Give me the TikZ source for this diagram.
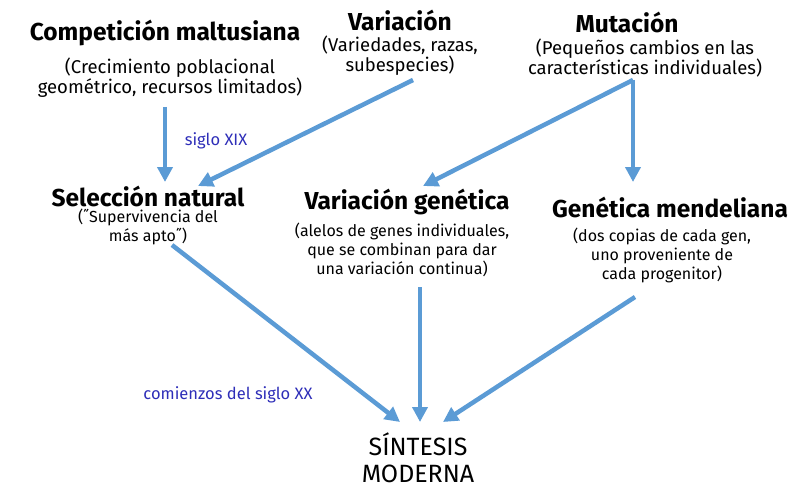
\documentclass[tikz,border=0pt]{standalone}
\usepackage{fontspec}
\setmainfont{Fira Sans}
\usetikzlibrary{arrows.meta}
\definecolor{arr}{HTML}{5B9BD5}
\definecolor{lbl}{HTML}{2E2EB8}
\tikzset{
 ttl/.style={font=\fontsize{24.5}{26}\selectfont\bfseries, inner sep=0pt},
 sub/.style={font=\fontsize{18.5}{20}\selectfont, align=center, inner sep=0pt},
 sm/.style={font=\fontsize{16}{19}\selectfont, align=center, inner sep=0pt},
 era/.style={font=\fontsize{16.5}{18}\selectfont, text=lbl, inner sep=0pt},
 flow/.style={draw=arr, line width=4.5pt, -{Triangle[length=15pt,width=15pt]}}
}
\begin{document}
\begin{tikzpicture}[x=1pt,y=-1pt]
\useasboundingbox (0,0) rectangle (800,500);
\node[ttl] (cm) at (165,33) {Competición maltusiana};
\node[sub] (cms) at (170,78) {(Crecimiento poblacional\\geométrico, recursos limitados)};
\node[ttl] (va) at (400,20) {Variación};
\node[sub] (vas) at (400,56) {(Variedades, razas,\\subespecies)};
\node[ttl] (mu) at (627,22) {Mutación};
\node[sub] (mus) at (645,58) {(Pequeños cambios en las\\características individuales)};
\node[era] (s19) at (216,141) {siglo XIX};
\node[ttl] (sn) at (148,196) {Selección natural};
\node[sm] (sns) at (148,227) {(˝Supervivencia del\\más apto˝)};
\node[ttl] (vg) at (407,202) {Variación genética};
\node[sm] (vgs) at (402,250) {(alelos de genes individuales,\\que se combinan para dar\\una variación continua)};
\node[ttl] (gm) at (670,207) {Genética mendeliana};
\node[sm] (gms) at (662,255) {(dos copias de cada gen,\\uno proveniente de\\cada progenitor)};
\node[era] (s20) at (228,395) {comienzos del siglo XX};
\node[font=\fontsize{25}{27}\selectfont, align=center, inner sep=0pt] (sm) at (418,458) {SÍNTESIS\\MODERNA};
\coordinate (a1) at (165,107); \coordinate (b1) at (165,182);
\coordinate (a2) at (413,80); \coordinate (b2) at (198,186);
\coordinate (a3) at (633,80); \coordinate (b3) at (423,186);
\coordinate (b4) at (633,182);
\coordinate (a5) at (172,245); \coordinate (b5) at (400,422);
\coordinate (a6) at (420,287); \coordinate (b6) at (420,422);
\coordinate (a7) at (635,297); \coordinate (b7) at (443,422);
\draw[flow] (a1) -- (b1);
\draw[flow] (a2) -- (b2);
\draw[flow] (a3) -- (b3);
\draw[flow] (a3) -- (b4);
\draw[flow] (a5) -- (b5);
\draw[flow] (a6) -- (b6);
\draw[flow] (a7) -- (b7);
\end{tikzpicture}
\end{document}
